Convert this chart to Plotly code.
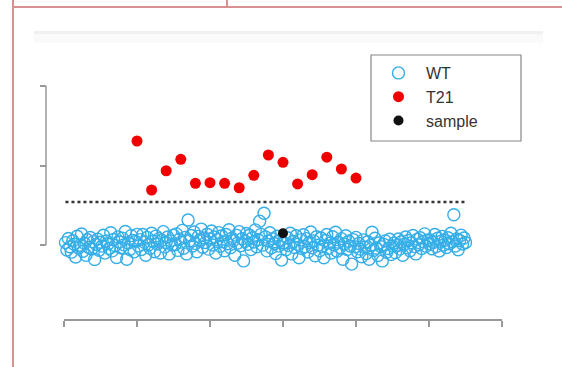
import plotly.graph_objects as go

# ---------------- data ----------------
wt_values = [
    0.15, -0.31, 0.41, -0.11, -0.45, 0.27, 0.05, -0.75, 0.55, -0.19, -0.01, 0.69, -0.39, 0.11, -0.65, 0.33, -0.15, 0.47, -0.25, 0.21, -0.91, 0.03, 0.37, -0.33, 0.17,
    -0.07, 0.61, -0.51, 0.25, 0.07, -0.21, 0.77, -0.37, 0.35, -0.03, -0.79, 0.51, 0.19, -0.17, 0.43, 0.01, 0.85, -0.90, 0.13, -0.29, 0.59, 0.29, -0.43, 0.23, 0.67,
    -0.06, 0.34, -0.28, 0.66, 0.18, -0.64, 0.48, 0.02, -0.20, 0.74, 0.24, -0.42, 0.56, 0.06, 0.40, -0.50, 0.30, 0.84, -0.12, 0.16, 0.50, -0.56, 0.26, 0.00, 0.62,
    0.02, 0.70, -0.34, 0.36, 0.18, 0.92, -0.20, 0.48, -0.56, 1.57, 0.26, 0.60, -0.06, 0.82, 0.10, -0.42, 0.54, 0.32, 1.00, -0.14, 0.44, 0.16, 0.68, -0.26, 0.38,
    0.88, 0.00, 0.50, -0.50, 0.34, 0.78, -0.08, 0.58, 0.20, -0.36, 0.66, 0.08, 0.96, -0.18, 0.42, 0.28, -0.64, 0.62, 0.12, 0.84, -0.04, 0.40, -1.00, 0.24, 0.72,
    0.05, 0.61, -0.29, 0.45, 0.19, 0.95, -0.11, 0.33, 1.50, 0.67, -0.01, 2.00, 0.51, -0.37, 0.25, 0.77, -0.17, 0.39, 0.09, -0.53, 0.55, -0.07, 0.29, -0.95, 0.13,
    0.12, -0.30, 0.46, -0.04, 0.74, -0.56, 0.22, -0.16, 0.58, 0.04, -0.80, 0.32, -0.22, 0.64, -0.10, 0.40, -0.44, 0.16, 0.82, -0.18, 0.26, -0.68, 0.52, -0.02, -0.36,
    0.44, -0.10, -0.80, 0.28, 0.66, -0.22, 0.12, -0.50, 0.52, 0.02, 0.80, -0.40, 0.18, -0.16, 0.40, -0.90, 0.06, 0.58, -0.28, 0.24, -0.06, -1.20, 0.34, -0.12, 0.48,
    -0.42, 0.10, -0.26, -0.74, 0.32, -0.14, -0.54, 0.20, -0.90, -0.02, 0.80, -0.34, 0.42, -0.20, -0.66, 0.14, -0.10, -1.00, 0.04, 0.26, -0.46, -0.22, 0.36, -0.60, -0.06,
    0.12, -0.48, -0.04, 0.38, -0.26, 0.20, -0.64, 0.04, 0.50, -0.18, 0.28, -0.36, 0.14, 0.60, -0.10, -0.56, 0.36, 0.02, 0.46, -0.22, 0.22, 0.70, -0.08, 0.32, 0.08,
    0.32, -0.24, 0.16, 0.66, -0.10, 0.42, -0.38, 0.24, 0.54, 0.00, 0.30, -0.16, 0.46, 0.08, 0.74, 0.20, 1.90, -0.06, 0.38, -0.30, 0.28, 0.62, 0.06, 0.44, 0.16,
]
wt_index = list(range(1, len(wt_values) + 1))

t21_index = [50, 60, 70, 80, 90, 100, 110, 120, 130, 140, 150, 160, 170, 180, 190, 200]
t21_values = [6.54, 3.46, 4.67, 5.39, 3.88, 3.92, 3.88, 3.60, 4.38, 5.66, 5.20, 3.84, 4.42, 5.52, 4.78, 4.21]

sample_index = [150]
sample_values = [0.74]

threshold = 2.7

x_ticks = [0, 50, 100, 150, 200, 250, 300]
y_ticks = [0, 5, 10]

# ---------------- layout geometry ----------------
W, H = 562, 367
L, R, T, B = 46, 42, 86, 47
PW, PH = W - L - R, H - T - B
Y_MIN, Y_MAX = -2, 10
PX_PER_Y = (245 - 86) / (Y_MAX - 0)


def px(x):
    return (x - L) / PW


def py(y):
    return (H - B - y) / PH


fig = go.Figure()

fig.add_trace(go.Scatter(
    x=[wt_index[0], wt_index[-1]], y=[threshold, threshold], mode="lines",
    line=dict(color="#333333", width=2.5, dash="3px,3px"),
    showlegend=False, hoverinfo="skip"))

fig.add_trace(go.Scatter(
    x=wt_index, y=wt_values, mode="markers", name="WT", cliponaxis=False,
    marker=dict(symbol="circle-open", size=12, color="#35aee8",
                line=dict(width=1.4, color="#35aee8"))))

fig.add_trace(go.Scatter(
    x=t21_index, y=t21_values, mode="markers", name="T21", cliponaxis=False,
    marker=dict(symbol="circle", size=11, color="#f00000")))

fig.add_trace(go.Scatter(
    x=sample_index, y=sample_values, mode="markers", name="sample", cliponaxis=False,
    marker=dict(symbol="circle", size=10, color="#111111")))

red = "#d89090"
axis_grey = "#999999"
shapes = [
    dict(type="rect", xref="paper", yref="paper", x0=px(34), x1=px(543), y0=py(34), y1=py(43),
         fillcolor="#fafafa", line=dict(width=0), layer="below"),
    dict(type="rect", xref="paper", yref="paper", x0=px(34), x1=px(543), y0=py(31), y1=py(34),
         fillcolor="#f0f0f0", line=dict(width=0), layer="below"),
    dict(type="line", xref="paper", yref="paper", x0=px(13), x1=px(13), y0=py(0), y1=py(367),
         line=dict(color=red, width=2)),
    dict(type="line", xref="paper", yref="paper", x0=px(13), x1=px(562), y0=py(7), y1=py(7),
         line=dict(color=red, width=2)),
    dict(type="line", xref="paper", yref="paper", x0=px(227), x1=px(227), y0=py(0), y1=py(7),
         line=dict(color=red, width=2)),
    # R-style y axis line: spans only the tick range
    dict(type="line", xref="paper", yref="y", x0=0, x1=0, y0=min(y_ticks), y1=max(y_ticks),
         line=dict(color=axis_grey, width=1.5)),
    # legend frame
    dict(type="rect", xref="paper", yref="paper", x0=px(371), x1=px(521), y0=py(55), y1=py(141),
         fillcolor="white", line=dict(color="#888888", width=1.2), layer="below"),
]

axis_common = dict(showgrid=False, zeroline=False, ticks="outside", ticklen=6,
                   tickcolor=axis_grey, tickwidth=1.5, showticklabels=False)

fig.update_layout(
    width=W, height=H,
    margin=dict(l=L, r=R, t=T, b=B),
    paper_bgcolor="white", plot_bgcolor="rgba(0,0,0,0)",
    xaxis=dict(range=[0, 300], tickvals=x_ticks, domain=[px(64), px(502)],
               anchor="free", position=0, showline=True, linecolor=axis_grey,
               linewidth=1.5, **axis_common),
    yaxis=dict(range=[Y_MIN, Y_MAX], tickvals=y_ticks,
               domain=[py(245 - Y_MIN * PX_PER_Y), 1],
               anchor="free", position=0, showline=False, **axis_common),
    legend=dict(x=px(371), y=py(56), xanchor="left", yanchor="top",
                borderwidth=0, bgcolor="rgba(0,0,0,0)", itemwidth=45,
                font=dict(family="Liberation Sans", size=16, color="#333333")),
    shapes=shapes,
    showlegend=True,
)

fig.write_html("out.html")
